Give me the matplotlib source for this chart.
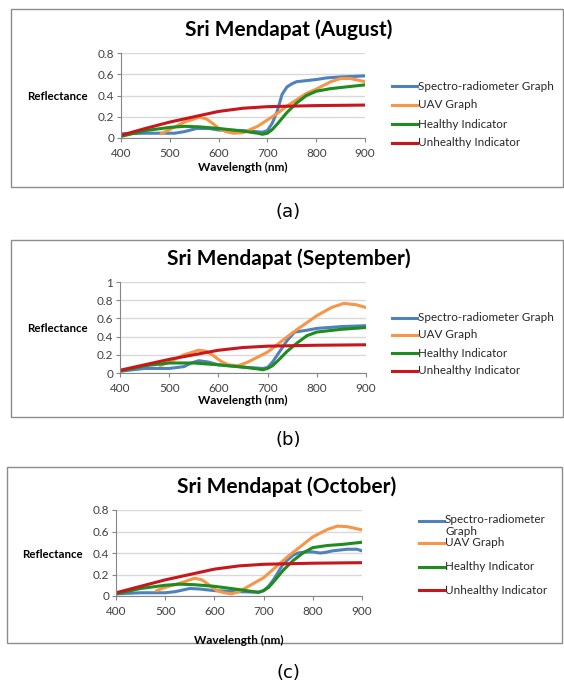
import matplotlib
matplotlib.use("Agg")
import matplotlib.pyplot as plt
from matplotlib.patches import Rectangle
from matplotlib.lines import Line2D

W, H = 564, 683
FONT = "Lato"

series_names = ["Spectro-radiometer Graph", "UAV Graph", "Healthy Indicator", "Unhealthy Indicator"]
series_colors = ["#4F81BD", "#F79646", "#1E8C1E", "#C8161D"]

# ---------------- August ----------------
aug_spec_x = [400, 450, 510, 530, 555, 580, 600, 650, 690, 700, 710, 720, 730, 740, 750, 760, 780, 800, 820, 850, 880, 900]
aug_spec_y = [0.04, 0.045, 0.045, 0.06, 0.09, 0.09, 0.075, 0.07, 0.055, 0.07, 0.14, 0.25, 0.41, 0.48, 0.51, 0.53, 0.54, 0.55, 0.565, 0.575, 0.58, 0.585]
aug_uav_x = [482, 500, 530, 560, 575, 590, 600, 615, 630, 650, 680, 700, 720, 740, 760, 780, 800, 830, 850, 870, 900]
aug_uav_y = [0.04, 0.08, 0.15, 0.195, 0.18, 0.13, 0.09, 0.06, 0.045, 0.05, 0.11, 0.17, 0.23, 0.3, 0.36, 0.42, 0.46, 0.53, 0.56, 0.56, 0.53]
aug_hea_x = [400, 450, 500, 530, 560, 600, 650, 680, 690, 700, 710, 720, 740, 760, 780, 800, 830, 860, 900]
aug_hea_y = [0.015, 0.07, 0.1, 0.11, 0.105, 0.09, 0.065, 0.045, 0.035, 0.045, 0.08, 0.13, 0.24, 0.33, 0.4, 0.44, 0.465, 0.48, 0.5]
aug_unh_x = [400, 450, 500, 550, 600, 650, 700, 750, 800, 900]
aug_unh_y = [0.025, 0.09, 0.15, 0.2, 0.25, 0.28, 0.295, 0.3, 0.305, 0.31]

# ---------------- September ----------------
sep_spec_x = [400, 450, 500, 530, 545, 560, 580, 600, 650, 690, 700, 710, 720, 740, 755, 780, 800, 850, 900]
sep_spec_y = [0.02, 0.05, 0.05, 0.07, 0.11, 0.135, 0.12, 0.09, 0.065, 0.05, 0.06, 0.12, 0.2, 0.36, 0.45, 0.47, 0.49, 0.51, 0.52]
sep_uav_x = [482, 500, 530, 560, 575, 590, 605, 620, 640, 660, 700, 750, 800, 830, 855, 880, 900]
sep_uav_y = [0.08, 0.12, 0.2, 0.25, 0.24, 0.19, 0.13, 0.09, 0.08, 0.12, 0.23, 0.44, 0.63, 0.72, 0.765, 0.75, 0.72]
sep_hea_x = [400, 450, 500, 550, 600, 650, 680, 690, 700, 710, 720, 740, 760, 780, 800, 850, 900]
sep_hea_y = [0.02, 0.08, 0.11, 0.11, 0.09, 0.065, 0.045, 0.035, 0.05, 0.08, 0.13, 0.24, 0.33, 0.41, 0.45, 0.48, 0.5]
sep_unh_x = [400, 450, 500, 550, 600, 650, 700, 750, 800, 900]
sep_unh_y = [0.03, 0.09, 0.15, 0.2, 0.25, 0.28, 0.295, 0.3, 0.305, 0.31]

# ---------------- October ----------------
oct_spec_x = [400, 450, 500, 520, 550, 570, 600, 650, 690, 700, 710, 720, 740, 760, 770, 785, 800, 815, 825, 840, 870, 890, 900]
oct_spec_y = [0.02, 0.03, 0.03, 0.04, 0.07, 0.065, 0.05, 0.04, 0.035, 0.05, 0.09, 0.15, 0.3, 0.38, 0.4, 0.41, 0.41, 0.4, 0.405, 0.42, 0.435, 0.435, 0.42]
oct_uav_x = [482, 500, 530, 560, 575, 590, 605, 620, 635, 650, 700, 750, 800, 830, 850, 870, 900]
oct_uav_y = [0.05, 0.08, 0.12, 0.165, 0.15, 0.1, 0.05, 0.03, 0.02, 0.04, 0.17, 0.37, 0.55, 0.62, 0.65, 0.645, 0.615]
oct_hea_x = [400, 450, 500, 530, 560, 600, 650, 680, 690, 700, 710, 720, 740, 760, 780, 800, 830, 860, 900]
oct_hea_y = [0.02, 0.07, 0.1, 0.11, 0.105, 0.09, 0.06, 0.04, 0.035, 0.05, 0.08, 0.13, 0.24, 0.33, 0.4, 0.45, 0.47, 0.48, 0.5]
oct_unh_x = [400, 450, 500, 550, 600, 650, 700, 750, 800, 900]
oct_unh_y = [0.03, 0.09, 0.15, 0.2, 0.25, 0.28, 0.295, 0.3, 0.305, 0.31]

x_ticks = [400, 500, 600, 700, 800, 900]
titles = ["Sri Mendapat (August)", "Sri Mendapat (September)", "Sri Mendapat (October)"]
captions = ["(a)", "(b)", "(c)"]
y_ticks_list = [[0, 0.2, 0.4, 0.6, 0.8], [0, 0.2, 0.4, 0.6, 0.8, 1], [0, 0.2, 0.4, 0.6, 0.8]]
y_ticklabels_list = [["0", "0.2", "0.4", "0.6", "0.8"], ["0", "0.2", "0.4", "0.6", "0.8", "1"], ["0", "0.2", "0.4", "0.6", "0.8"]]

data = [
    [(aug_spec_x, aug_spec_y), (aug_uav_x, aug_uav_y), (aug_hea_x, aug_hea_y), (aug_unh_x, aug_unh_y)],
    [(sep_spec_x, sep_spec_y), (sep_uav_x, sep_uav_y), (sep_hea_x, sep_hea_y), (sep_unh_x, sep_unh_y)],
    [(oct_spec_x, oct_spec_y), (oct_uav_x, oct_uav_y), (oct_hea_x, oct_hea_y), (oct_unh_x, oct_unh_y)],
]

# layout in pixels
layout = [
    dict(box=(11, 9, 563, 187), ax=(121, 53, 365, 138), title_y=30, refl=(88, 97), wl_y=167,
         leg_x=392, leg_ys=[86, 105, 124, 143], cap_y=212, wrap=False),
    dict(box=(11, 240, 563, 417), ax=(120, 282, 366, 373), title_y=259, refl=(88, 328), wl_y=400,
         leg_x=392, leg_ys=[318, 335, 353, 371], cap_y=440, wrap=False),
    dict(box=(7, 467, 562, 643), ax=(116, 510, 362, 596), title_y=487, refl=(83, 554), wl_y=640,
         leg_x=419, leg_ys=[521, 543, 567, 590], cap_y=673, wrap=True),
]

def fx(px):
    return px / W

def fy(py):
    return 1 - py / H

fig = plt.figure(figsize=(W / 100, H / 100), dpi=100)
fig.patch.set_facecolor("white")

for i in range(3):
    L = layout[i]
    bx0, by0, bx1, by1 = L["box"]
    fig.add_artist(Rectangle((fx(bx0), fy(by1)), fx(bx1) - fx(bx0), fy(by0) - fy(by1),
                             transform=fig.transFigure, fill=False, edgecolor="#8C8C8C", lw=1.0))
    ax0, ay0, ax1, ay1 = L["ax"]
    ax = fig.add_axes([fx(ax0), fy(ay1), fx(ax1) - fx(ax0), fy(ay0) - fy(ay1)])
    for (xs, ys), c in zip(data[i], series_colors):
        ax.plot(xs, ys, color=c, lw=2.2, solid_capstyle="round", solid_joinstyle="round")
    ax.set_xlim(400, 900)
    yt = y_ticks_list[i]
    ax.set_ylim(0, yt[-1])
    ax.set_xticks(x_ticks)
    ax.set_xticklabels([str(t) for t in x_ticks], fontsize=8.5, family=FONT)
    ax.set_yticks(yt)
    ax.set_yticklabels(y_ticklabels_list[i], fontsize=8.5, family=FONT)
    ax.grid(axis="y", color="#D9D9D9", lw=1.0)
    ax.set_axisbelow(True)
    for s in ["top", "right"]:
        ax.spines[s].set_visible(False)
    for s in ["left", "bottom"]:
        ax.spines[s].set_color("#868686")
        ax.spines[s].set_linewidth(0.8)
    ax.tick_params(axis="both", colors="#868686", length=3, width=0.8, labelcolor="#404040", pad=2)
    ax.tick_params(axis="x", pad=4)

    fig.text(fx((bx0 + bx1) / 2 + 2), fy(L["title_y"]), titles[i], ha="center", va="center",
             fontsize=15, fontweight="bold", family=FONT, color="black")
    fig.text(fx(L["refl"][0]), fy(L["refl"][1]), "Reflectance", ha="right", va="center",
             fontsize=8.3, fontweight="bold", family=FONT, color="black")
    fig.text(fx((ax0 + ax1) / 2), fy(L["wl_y"]), "Wavelength (nm)", ha="center", va="center",
             fontsize=8.5, fontweight="bold", family=FONT, color="black")

    lx = L["leg_x"]
    for j, (name, c) in enumerate(zip(series_names, series_colors)):
        ly = L["leg_ys"][j]
        fig.add_artist(Line2D([fx(lx), fx(lx + 25)], [fy(ly), fy(ly)], transform=fig.transFigure,
                              color=c, lw=2.2))
        if L["wrap"] and j == 0:
            fig.text(fx(lx + 26), fy(ly - 7), "Spectro-radiometer\nGraph", ha="left", va="top",
                     fontsize=8.4, family=FONT, color="#262626", linespacing=1.1)
        else:
            fig.text(fx(lx + 26), fy(ly), name, ha="left", va="center", fontsize=8.4,
                     family=FONT, color="#262626")

    fig.text(fx(288), fy(L["cap_y"]), captions[i], ha="center", va="center",
             fontsize=13, family="DejaVu Sans", color="black")

fig.savefig("out.png", dpi=100)
